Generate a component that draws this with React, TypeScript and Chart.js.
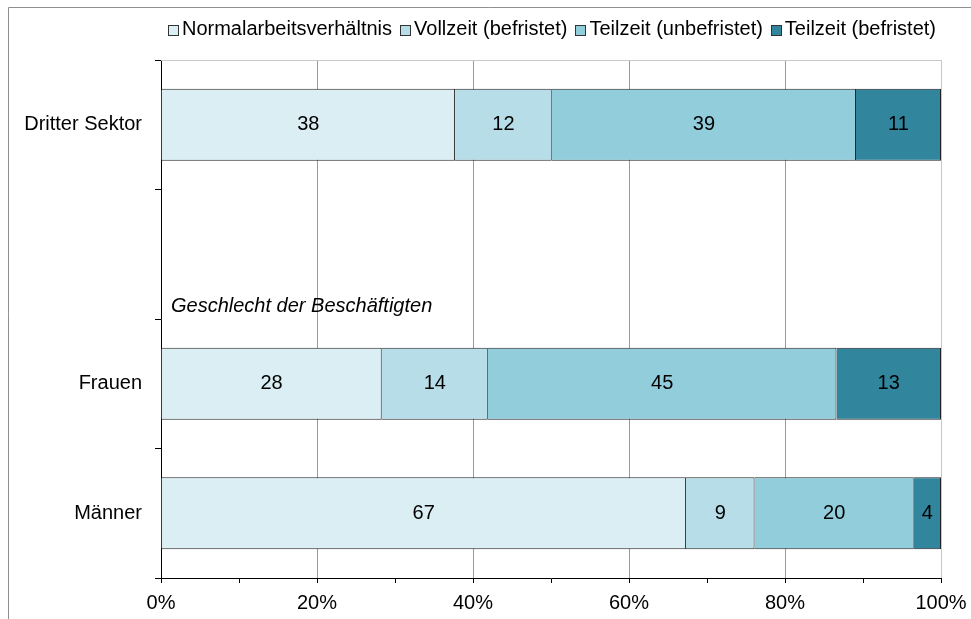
import { useEffect, useRef } from 'react';
import { Chart, registerables } from 'chart.js';

Chart.register(...registerables);

const FONT = "'Liberation Sans', Arial, sans-serif";

const categories = ['Dritter Sektor', '', 'Frauen', 'Männer'];
const seriesNames = [
  'Normalarbeitsverhältnis',
  'Vollzeit (befristet)',
  'Teilzeit (unbefristet)',
  'Teilzeit (befristet)',
];
const normalarbeit = [37.7, null, 28.3, 67.3];
const vollzeitBefristet = [12.4, null, 13.6, 8.8];
const teilzeitUnbefristet = [39.0, null, 44.7, 20.4];
const teilzeitBefristet = [10.9, null, 13.4, 3.5];
const seriesColors = ['#DAEEF3', '#B7DEE8', '#92CDDC', '#31859C'];
const majorTicks = [0, 20, 40, 60, 80, 100];
const groupLabel = 'Geschlecht der Beschäftigten';

export default function App() {
  const ref = useRef<HTMLCanvasElement | null>(null);

  useEffect(() => {
    if (!ref.current) return;
    const seriesValues = [normalarbeit, vollzeitBefristet, teilzeitUnbefristet, teilzeitBefristet];

    const customLegend = {
      id: 'customLegend',
      afterDraw(chart: any) {
        const ctx = chart.ctx;
        const BOX = 10;
        const GAP = 4;
        const ITEM_GAP = 8;
        ctx.save();
        ctx.font = `20px ${FONT}`;
        const ds = chart.data.datasets;
        const widths = ds.map((d: any) => ctx.measureText(d.label).width);
        const total =
          widths.reduce((a: number, b: number) => a + b, 0) + ds.length * (BOX + GAP) + (ds.length - 1) * ITEM_GAP;
        let x = chart.chartArea.right - 5 - total;
        const y = chart.chartArea.top - 30.5;
        ctx.textBaseline = 'middle';
        ctx.textAlign = 'left';
        ds.forEach((d: any, i: number) => {
          const bx = Math.round(x) + 0.5;
          const by = Math.round(y - BOX / 2) + 0.5;
          ctx.fillStyle = d.backgroundColor;
          ctx.fillRect(bx, by, BOX, BOX);
          ctx.strokeStyle = '#333';
          ctx.lineWidth = 1;
          ctx.strokeRect(bx, by, BOX, BOX);
          ctx.fillStyle = '#000';
          ctx.fillText(d.label, x + BOX + GAP, y);
          x += BOX + GAP + widths[i] + ITEM_GAP;
        });
        ctx.restore();
      },
    };

    const frameAndLabels = {
      id: 'frameAndLabels',
      beforeDraw(chart: any) {
        const ctx = chart.ctx;
        ctx.save();
        ctx.strokeStyle = '#8f8f8f';
        ctx.lineWidth = 1;
        ctx.beginPath();
        ctx.moveTo(8.5, chart.height);
        ctx.lineTo(8.5, 7.5);
        ctx.lineTo(chart.width, 7.5);
        ctx.stroke();
        ctx.restore();
      },
      beforeDatasetsDraw(chart: any) {
        const ctx = chart.ctx;
        const a = chart.chartArea;
        ctx.save();
        ctx.strokeStyle = '#c8c8c8';
        ctx.lineWidth = 1;
        ctx.beginPath();
        ctx.moveTo(a.left, Math.round(a.top) + 0.5);
        ctx.lineTo(a.right, Math.round(a.top) + 0.5);
        ctx.stroke();
        ctx.restore();
      },
      afterDatasetsDraw(chart: any) {
        const ctx = chart.ctx;
        ctx.save();
        ctx.font = `20px ${FONT}`;
        ctx.fillStyle = '#000';
        ctx.textAlign = 'center';
        ctx.textBaseline = 'middle';
        chart.data.datasets.forEach((ds: any, di: number) => {
          const meta = chart.getDatasetMeta(di);
          meta.data.forEach((el: any, i: number) => {
            const v = ds.data[i];
            if (v == null) return;
            const p = el.getCenterPoint();
            ctx.fillText(String(Math.round(v)), p.x, p.y);
          });
        });
        const ys = chart.scales.y;
        const boundary = (ys.getPixelForValue(1) + ys.getPixelForValue(2)) / 2;
        ctx.font = `italic 20px ${FONT}`;
        ctx.textAlign = 'left';
        ctx.fillText(groupLabel, chart.chartArea.left + 10, boundary - 13);
        ctx.restore();
      },
    };

    const chart = new Chart(ref.current, {
      type: 'bar',
      data: {
        labels: categories,
        datasets: seriesNames.map((name, i) => ({
          label: name,
          data: seriesValues[i],
          backgroundColor: seriesColors[i],
          borderColor: '#222',
          borderWidth: 1,
          categoryPercentage: 0.556,
          barPercentage: 1,
        })),
      },
      options: {
        indexAxis: 'y',
        animation: false,
        responsive: false,
        maintainAspectRatio: false,
        color: '#000',
        layout: { padding: { top: 60, right: 30, bottom: 0, left: 0 } },
        plugins: {
          tooltip: { enabled: false },
          legend: { display: false },
        },
        scales: {
          x: {
            type: 'linear',
            stacked: true,
            min: 0,
            max: 100,
            afterFit: (s: any) => {
              s.height = 41;
              s.paddingRight = 0;
              s.paddingLeft = 0;
            },
            ticks: {
              stepSize: 10,
              autoSkip: false,
              maxRotation: 0,
              padding: 8,
              color: '#000',
              font: { family: FONT, size: 20 },
              callback: (v: any) => (majorTicks.includes(Number(v)) ? `${v}%` : ''),
            },
            grid: {
              color: (c: any) => {
                const v = c.tick ? c.tick.value : 0;
                if (!majorTicks.includes(v)) return 'rgba(0,0,0,0)';
                return v === 100 ? '#c8c8c8' : '#9a9a9a';
              },
              tickColor: '#000',
              tickLength: 5,
            },
            border: { display: true, color: '#000', width: 1 },
          },
          y: {
            type: 'category',
            stacked: true,
            offset: true,
            afterFit: (s: any) => {
              s.width = 161;
            },
            ticks: {
              padding: 13,
              color: '#000',
              font: { family: FONT, size: 20 },
            },
            grid: {
              offset: true,
              drawOnChartArea: false,
              tickColor: '#000',
              tickLength: 6,
            },
            border: { display: true, color: '#000', width: 1 },
          },
        },
      },
      plugins: [frameAndLabels, customLegend],
    } as any);

    return () => chart.destroy();
  }, []);

  return (
    <div style={{ position: 'fixed', left: 0, top: 0, width: 971, height: 619, background: '#fff' }}>
      <canvas ref={ref} width={971} height={619} style={{ display: 'block', width: 971, height: 619 }} />
    </div>
  );
}
